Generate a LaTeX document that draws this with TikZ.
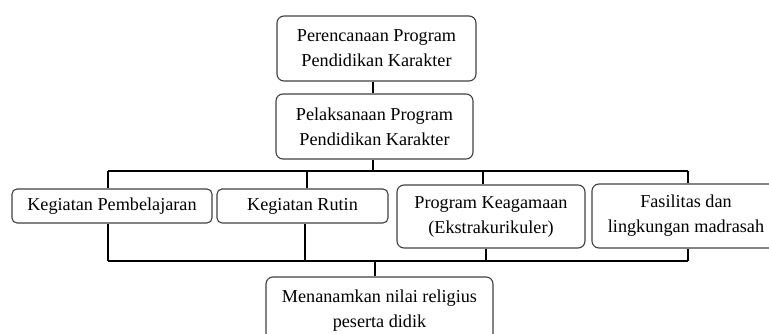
\documentclass[tikz,border=0pt]{standalone}
\usepackage{fontspec}
\setmainfont{Liberation Serif}
\begin{document}
\begin{tikzpicture}[x=1pt,y=-1pt,
  box/.style={draw=black!75,line width=1.1pt,rounded corners=7pt,inner sep=0pt,align=center,
    font=\fontsize{18.2}{25}\selectfont,text=black},
  conn/.style={draw=black,line width=1.8pt}]
\useasboundingbox (0,0) rectangle (769,334);
\clip (0,0) rectangle (769,334);
\node[box,minimum width=199pt,minimum height=65pt] (b1) at (376.5,48.5) {Perencanaan Program\\Pendidikan Karakter};
\node[box,minimum width=197pt,minimum height=65pt] (b2) at (374.5,126.5) {Pelaksanaan Program\\Pendidikan Karakter};
\node[box,rounded corners=5pt,minimum width=200pt,minimum height=34pt] (kp) at (112,206) {Kegiatan Pembelajaran};
\node[box,rounded corners=5pt,minimum width=171pt,minimum height=34pt] (kr) at (302.5,206) {Kegiatan Rutin};
\node[box,minimum width=188pt,minimum height=63pt] (pk) at (491,216.5) {Program Keagamaan\\(Ekstrakurikuler)};
\node[box,minimum width=188pt,minimum height=64pt] (fl) at (686,216) {Fasilitas dan\\lingkungan madrasah};
\node[box,minimum width=227pt,minimum height=68pt] (mn) at (379.5,311) {Menanamkan nilai religius\\peserta didik};
\coordinate (t1) at (108,171);
\coordinate (t2) at (307,171);
\coordinate (t3) at (483,171);
\coordinate (t4) at (688,171);
\coordinate (u1) at (108,261);
\coordinate (u2) at (305,261);
\coordinate (u3) at (486,261);
\coordinate (u4) at (688,261);
\coordinate (um) at (375,261);
\draw[conn] (b1.south -| 373,0) -- (b2.north -| 373,0);
\draw[conn] (b2.south -| 373,0) -- (373,171);
\draw[conn] (t1) -- (t4);
\draw[conn] (t1) -- (t1 |- kp.north);
\draw[conn] (t2) -- (t2 |- kr.north);
\draw[conn] (t3) -- (t3 |- pk.north);
\draw[conn] (t4) -- (t4 |- fl.north);
\draw[conn] (u1) -- (u4);
\draw[conn] (u1) -- (u1 |- kp.south);
\draw[conn] (u2) -- (u2 |- kr.south);
\draw[conn] (u3) -- (u3 |- pk.south);
\draw[conn] (u4) -- (u4 |- fl.south);
\draw[conn] (um) -- (um |- mn.north);
\end{tikzpicture}
\end{document}
